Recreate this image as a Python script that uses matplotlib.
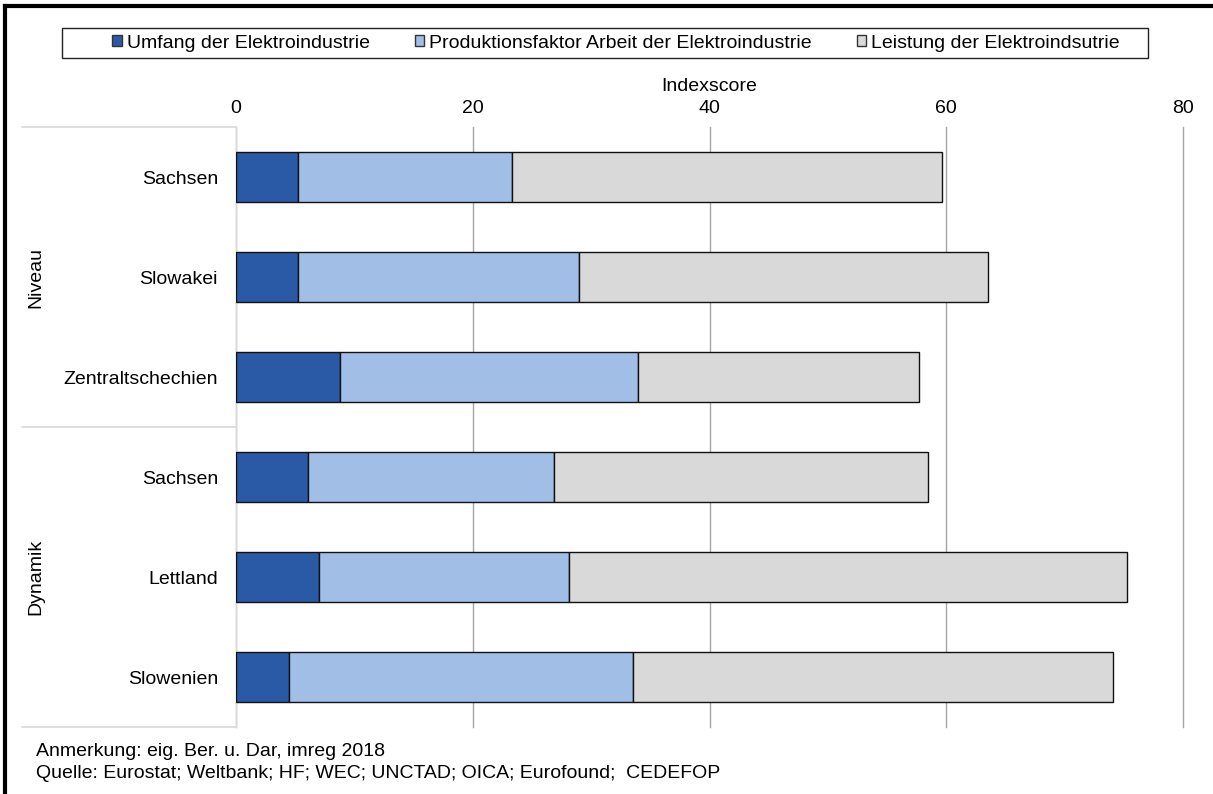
import numpy as np
import matplotlib.pyplot as plt
from matplotlib.patches import Patch, Rectangle
from matplotlib.lines import Line2D

plt.rcParams['font.family'] = ['Liberation Sans', 'DejaVu Sans']

regions = ["Sachsen", "Slowakei", "Zentraltschechien", "Sachsen", "Lettland", "Slowenien"]
groups = ["Niveau", "Dynamik"]
umfang = [5.2, 5.2, 8.8, 6.1, 7.0, 4.5]
arbeit = [18.1, 23.8, 25.2, 20.8, 21.1, 29.0]
leistung = [36.3, 34.5, 23.7, 31.6, 47.2, 40.6]
series_names = ["Umfang der Elektroindustrie",
                "Produktionsfaktor Arbeit der Elektroindustrie",
                "Leistung der Elektroindsutrie"]
colors = ["#2a5aa5", "#a1bee7", "#d9d9d9"]

W, H = 1213, 794
FS = 14
fig = plt.figure(figsize=(W / 100, H / 100), dpi=100)
ax = fig.add_axes([236 / W, 1 - 727 / H, (1183 - 236) / W, (727 - 127) / H])

y = np.arange(len(regions))
left = np.zeros(len(regions))
for vals, col in zip([umfang, arbeit, leistung], colors):
    ax.barh(y, vals, left=left, height=0.5, color=col, edgecolor="#111111",
            linewidth=1, zorder=3)
    left += np.array(vals)

ax.set_xlim(0, 80)
ax.set_ylim(5.5, -0.5)
ax.set_xticks([0, 20, 40, 60, 80])
ax.xaxis.tick_top()
ax.xaxis.set_label_position('top')
ax.set_xlabel("Indexscore", fontsize=FS, labelpad=7)
ax.tick_params(axis='x', length=0, labelsize=FS, pad=7)
ax.tick_params(axis='y', length=0, labelsize=FS, pad=13)
ax.set_yticks(y)
ax.set_yticklabels(regions)
ax.grid(axis='x', color="#a6a6a6", linewidth=1, zorder=0)
for t in ax.xaxis.get_major_ticks():
    t.gridline.set_clip_on(False)
for s in ["top", "right", "bottom"]:
    ax.spines[s].set_visible(False)
ax.spines["left"].set_color("#d9d9d9")

# group separators and labels on the left
tr = ax.get_yaxis_transform()
x0 = (22 - 236) / (1183 - 236)
for yy in [-0.5, 2.5, 5.5]:
    ax.plot([x0, 0], [yy, yy], color="#d9d9d9", linewidth=1.2,
            transform=tr, clip_on=False)
x_grp = (36 - 236) / (1183 - 236)
for g, yc in zip(groups, [1, 4]):
    ax.text(x_grp, yc, g, rotation=90, ha="center", va="center",
            fontsize=FS, transform=tr)

# legend entries without frame, box drawn separately (wider side margins)
handles = [Patch(facecolor=c, edgecolor="#333333", linewidth=1) for c in colors]
fig.legend(handles, series_names, ncol=3, loc="center",
           bbox_to_anchor=(616 / W, 1 - 43 / H), fontsize=FS,
           frameon=False, handlelength=0.5, handleheight=0.5,
           handletextpad=0.25, columnspacing=2.3, borderpad=0.3,
           borderaxespad=0)
fig.add_artist(Rectangle((62 / W, 1 - 58 / H), (1148 - 62) / W, 30 / H,
                         transform=fig.transFigure, facecolor="none",
                         edgecolor="#222222", linewidth=1))

fig.text(36 / W, 1 - 752 / H, "Anmerkung: eig. Ber. u. Dar, imreg 2018",
         fontsize=FS, va="center")
fig.text(36 / W, 1 - 773 / H,
         "Quelle: Eurostat; Weltbank; HF; WEC; UNCTAD; OICA; Eurofound;  CEDEFOP",
         fontsize=FS, va="center")

# outer frame lines (top and left)
fig.add_artist(Line2D([5 / W, 1], [1 - 6 / H, 1 - 6 / H], color="black",
                      linewidth=3, transform=fig.transFigure))
fig.add_artist(Line2D([5 / W, 5 / W], [0, 1 - 6 / H], color="black",
                      linewidth=3, transform=fig.transFigure))

fig.savefig("out.png", dpi=100)
